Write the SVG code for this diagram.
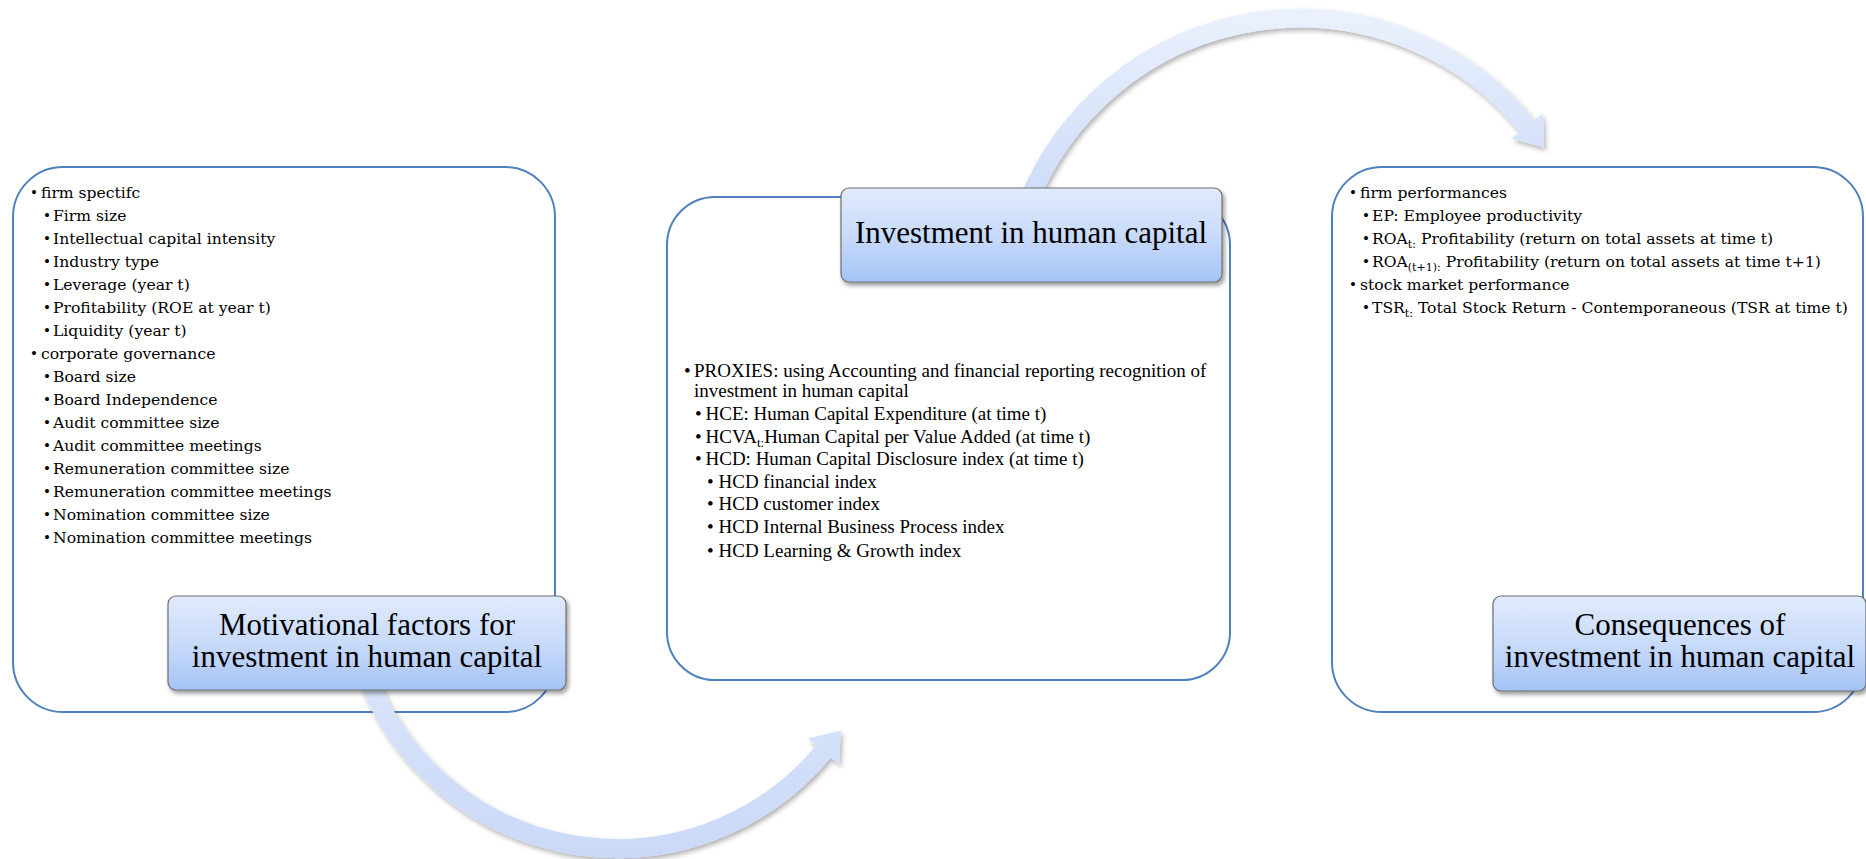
<svg xmlns="http://www.w3.org/2000/svg" width="1866" height="859" viewBox="0 0 1866 859">
<defs>
<style>
.frame{fill:#ffffff;stroke:#4f81bd;stroke-width:2}
.title{fill:url(#tg);stroke:#6e6e6e;stroke-width:1.2;filter:url(#sh)}
.tt{font-family:"Liberation Serif","DejaVu Serif",serif;font-size:31px;fill:#000;text-anchor:middle}
.lr{font-family:"DejaVu Serif","Liberation Serif",serif;font-size:15.6px;fill:#000}
.mid{font-family:"Liberation Serif","DejaVu Serif",serif;font-size:19px;fill:#000}
.b{font-family:"Liberation Serif",serif;font-size:17px}
.sub{font-size:11px}
.msub{font-size:13px}
</style>
<linearGradient id="tg" x1="0" y1="0" x2="0" y2="1">
<stop offset="0" stop-color="#e0eafc"/>
<stop offset="0.5" stop-color="#c9dbfa"/>
<stop offset="1" stop-color="#a5c3f6"/>
</linearGradient>
<linearGradient id="ag1" gradientUnits="userSpaceOnUse" x1="0" y1="8" x2="0" y2="200">
<stop offset="0" stop-color="#ebf1fd"/>
<stop offset="1" stop-color="#cddcf8"/>
</linearGradient>
<linearGradient id="ag2" gradientUnits="userSpaceOnUse" x1="0" y1="680" x2="0" y2="858">
<stop offset="0" stop-color="#d8e4fb"/>
<stop offset="1" stop-color="#cad9f7"/>
</linearGradient>
<filter id="sh" x="-10%" y="-10%" width="125%" height="130%">
<feDropShadow dx="2" dy="3" stdDeviation="2" flood-color="#000" flood-opacity="0.4"/>
</filter>
<filter id="ash" x="-10%" y="-10%" width="125%" height="130%">
<feDropShadow dx="2" dy="3" stdDeviation="2.5" flood-color="#000" flood-opacity="0.3"/>
</filter>
</defs>

<g id="frame-motivational">
<rect class="frame" x="13" y="167" width="542" height="545" rx="50" ry="50"/>
<text class="lr" x="31" y="197.5"><tspan class="b">•</tspan><tspan x="41">firm spectifc</tspan></text>
<text class="lr" x="44" y="220.5"><tspan class="b">•</tspan><tspan x="53">Firm size</tspan></text>
<text class="lr" x="44" y="243.5"><tspan class="b">•</tspan><tspan x="53">Intellectual capital intensity</tspan></text>
<text class="lr" x="44" y="266.5"><tspan class="b">•</tspan><tspan x="53">Industry type</tspan></text>
<text class="lr" x="44" y="289.5"><tspan class="b">•</tspan><tspan x="53">Leverage (year t)</tspan></text>
<text class="lr" x="44" y="312.5"><tspan class="b">•</tspan><tspan x="53">Profitability (ROE at year t)</tspan></text>
<text class="lr" x="44" y="335.5"><tspan class="b">•</tspan><tspan x="53">Liquidity (year t)</tspan></text>
<text class="lr" x="31" y="358.5"><tspan class="b">•</tspan><tspan x="41">corporate governance</tspan></text>
<text class="lr" x="44" y="381.5"><tspan class="b">•</tspan><tspan x="53">Board size</tspan></text>
<text class="lr" x="44" y="404.5"><tspan class="b">•</tspan><tspan x="53">Board Independence</tspan></text>
<text class="lr" x="44" y="427.5"><tspan class="b">•</tspan><tspan x="53">Audit committee size</tspan></text>
<text class="lr" x="44" y="450.5"><tspan class="b">•</tspan><tspan x="53">Audit committee meetings</tspan></text>
<text class="lr" x="44" y="473.5"><tspan class="b">•</tspan><tspan x="53">Remuneration committee size</tspan></text>
<text class="lr" x="44" y="496.5"><tspan class="b">•</tspan><tspan x="53">Remuneration committee meetings</tspan></text>
<text class="lr" x="44" y="519.5"><tspan class="b">•</tspan><tspan x="53">Nomination committee size</tspan></text>
<text class="lr" x="44" y="542.5"><tspan class="b">•</tspan><tspan x="53">Nomination committee meetings</tspan></text>
</g>

<g id="frame-investment">
<rect class="frame" x="667" y="197" width="563" height="483" rx="48" ry="48"/>
<text class="mid" x="684" y="377">•<tspan x="694">PROXIES: using Accounting and financial reporting recognition of</tspan></text>
<text class="mid" x="694" y="397">investment in human capital</text>
<text class="mid" x="695" y="420">•<tspan x="705.5">HCE: Human Capital Expenditure (at time t)</tspan></text>
<text class="mid" x="695" y="442.5">•<tspan x="705.5">HCVA</tspan><tspan class="msub" dy="4">t:</tspan><tspan dy="-4">Human Capital per Value Added (at time t)</tspan></text>
<text class="mid" x="695" y="465">•<tspan x="705.5">HCD: Human Capital Disclosure index (at time t)</tspan></text>
<text class="mid" x="707" y="487.5">•<tspan x="718.5">HCD financial index</tspan></text>
<text class="mid" x="707" y="510">•<tspan x="718.5">HCD customer index</tspan></text>
<text class="mid" x="707" y="533">•<tspan x="718.5">HCD Internal Business Process index</tspan></text>
<text class="mid" x="707" y="556.5">•<tspan x="718.5">HCD Learning &amp; Growth index</tspan></text>
</g>

<g id="frame-consequences">
<rect class="frame" x="1332" y="167" width="531" height="545" rx="50" ry="50"/>
<text class="lr" x="1350" y="197.5"><tspan class="b">•</tspan><tspan x="1360">firm performances</tspan></text>
<text class="lr" x="1363" y="220.5"><tspan class="b">•</tspan><tspan x="1372">EP: Employee productivity</tspan></text>
<text class="lr" x="1363" y="243.5"><tspan class="b">•</tspan><tspan x="1372">ROA</tspan><tspan class="sub" dy="4">t:</tspan><tspan dy="-4"> Profitability (return on total assets at time t)</tspan></text>
<text class="lr" x="1363" y="266.5"><tspan class="b">•</tspan><tspan x="1372">ROA</tspan><tspan class="sub" dy="4">(t+1):</tspan><tspan dy="-4"> Profitability (return on total assets at time t+1)</tspan></text>
<text class="lr" x="1350" y="289.5"><tspan class="b">•</tspan><tspan x="1360">stock market performance</tspan></text>
<text class="lr" x="1363" y="312.5"><tspan class="b">•</tspan><tspan x="1372">TSR</tspan><tspan class="sub" dy="4">t:</tspan><tspan dy="-4"> Total Stock Return - Contemporaneous (TSR at time t)</tspan></text>
</g>

<g id="connectors">
<g id="arrow-bottom" filter="url(#ash)">
<path d="M368.3,680 A268,268 0 0 0 823.5,751.5" fill="none" stroke="url(#ag2)" stroke-width="19"/>
<polygon points="808,738.5 839,764.3 840.8,730.5" fill="url(#ag2)"/>
</g>
<g id="arrow-top" filter="url(#ash)">
<path d="M1028.9,200 A293,293 0 0 1 1527,126" fill="none" stroke="url(#ag1)" stroke-width="19"/>
<polygon points="1511.5,138.6 1542.8,113.4 1544,147.5" fill="url(#ag1)"/>
</g>
</g>

<g id="node-motivational">
<rect class="title" x="168" y="596" width="398" height="94" rx="8" ry="8"/>
<text class="tt" x="367" y="635">Motivational factors for</text>
<text class="tt" x="367" y="667">investment in human capital</text>
</g>

<g id="node-investment">
<rect class="title" x="841" y="188" width="381" height="94" rx="8" ry="8"/>
<text class="tt" x="1031" y="243">Investment in human capital</text>
</g>

<g id="node-consequences">
<rect class="title" x="1493" y="596" width="373" height="95" rx="8" ry="8"/>
<text class="tt" x="1680" y="635">Consequences of</text>
<text class="tt" x="1680" y="667">investment in human capital</text>
</g>
</svg>
